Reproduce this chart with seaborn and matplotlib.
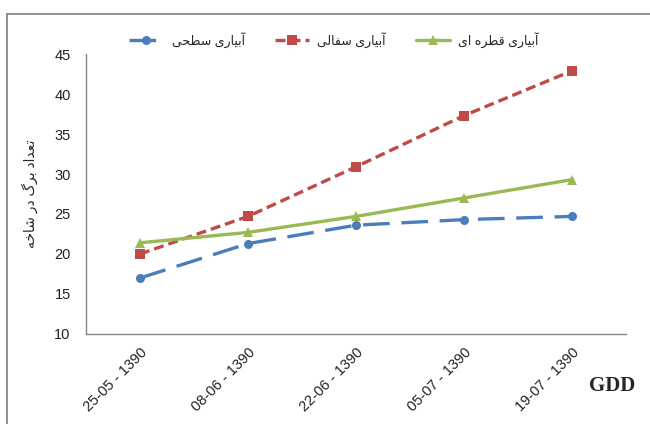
import pandas as pd
import matplotlib.pyplot as plt
import seaborn as sns
from matplotlib.lines import Line2D

dates = ['25-05 - 1390', '08-06 - 1390', '22-06 - 1390', '05-07 - 1390', '19-07 - 1390']
surface = [17.0, 21.3, 23.6, 24.3, 24.7]
clay_pot = [20.0, 24.7, 30.9, 37.3, 42.9]
drip = [21.4, 22.7, 24.7, 27.0, 29.3]
series_names = ['آبیاری سطحی', 'آبیاری سفالی', 'آبیاری قطره ای']
y_title = 'تعداد برگ در شاخه'

# matplotlib does no arabic shaping, so pick presentation forms by hand
# (isolated, final, initial, medial); two-entry rows don't join forward
FORMS = {
    'آ': '\ufe81\ufe82', 'ا': '\ufe8d\ufe8e', 'د': '\ufea9\ufeaa', 'ر': '\ufead\ufeae',
    'ب': '\ufe8f\ufe90\ufe91\ufe92', 'ت': '\ufe95\ufe96\ufe97\ufe98',
    'ح': '\ufea1\ufea2\ufea3\ufea4', 'خ': '\ufea5\ufea6\ufea7\ufea8',
    'س': '\ufeb1\ufeb2\ufeb3\ufeb4', 'ش': '\ufeb5\ufeb6\ufeb7\ufeb8',
    'ط': '\ufec1\ufec2\ufec3\ufec4', 'ع': '\ufec9\ufeca\ufecb\ufecc',
    'ف': '\ufed1\ufed2\ufed3\ufed4', 'ق': '\ufed5\ufed6\ufed7\ufed8',
    'ل': '\ufedd\ufede\ufedf\ufee0', 'ه': '\ufee9\ufeea\ufeeb\ufeec',
    'ی': '\ufeef\ufef0\ufef3\ufef4', 'گ': '\ufb92\ufb93\ufb94\ufb95',
}


def shape(text):
    out = []
    for i, ch in enumerate(text):
        f = FORMS.get(ch)
        if f is None:
            out.append(ch)
            continue
        prev = text[i - 1] if i > 0 else ''
        nxt = text[i + 1] if i + 1 < len(text) else ''
        join_prev = prev in FORMS and len(FORMS[prev]) == 4
        join_next = len(f) == 4 and nxt in FORMS
        if join_prev and join_next:
            out.append(f[3])
        elif join_next:
            out.append(f[2])
        elif join_prev:
            out.append(f[1])
        else:
            out.append(f[0])
    return ''.join(out)[::-1]


labels = [shape(s) for s in series_names]
df = pd.DataFrame({
    'x': list(range(len(dates))) * 3,
    'value': surface + clay_pot + drip,
    'series': [labels[0]] * 5 + [labels[1]] * 5 + [labels[2]] * 5,
})

sns.set_style('white')
plt.rcParams['font.family'] = ['Liberation Sans', 'DejaVu Sans']

fig = plt.figure(figsize=(6.5, 4.24), dpi=100)
ax = fig.add_axes([0.1323, 0.2123, 0.8307, 0.6603])

palette = {labels[0]: '#4a7ebb', labels[1]: '#be4b48', labels[2]: '#98b954'}
sns.lineplot(data=df, x='x', y='value', hue='series', style='series',
             palette=palette, markers={labels[0]: 'o', labels[1]: 's', labels[2]: '^'},
             dashes={labels[0]: (8, 3.5), labels[1]: (3, 1.5), labels[2]: ''},
             linewidth=2.4, markersize=6.5, markeredgewidth=0, ax=ax)

ax.set_xlim(-0.5, 4.5)
ax.set_ylim(10, 45)
ax.set_yticks(range(10, 46, 5))
ax.set_xticks(range(len(dates)))
ax.set_xticklabels(dates, rotation=45, ha='right', rotation_mode='anchor', fontsize=10.5)
ax.set_xticks([i - 0.5 for i in range(len(dates) + 1)], minor=True)
ax.tick_params(axis='x', which='major', length=0, pad=8, labelcolor='#222222')
ax.tick_params(axis='x', which='minor', length=5, color='#868686', width=1)
ax.tick_params(axis='y', length=5, color='#868686', width=1, labelsize=10.5, pad=6,
               labelcolor='#222222')
for s in ['top', 'right']:
    ax.spines[s].set_visible(False)
for s in ['left', 'bottom']:
    ax.spines[s].set_color('#868686')
    ax.spines[s].set_linewidth(1)

ax.set_xlabel('')
ax.set_ylabel(shape(y_title), fontsize=10, labelpad=12)

ax.legend(loc='center', bbox_to_anchor=(0.514, 0.906), bbox_transform=fig.transFigure,
          ncol=3, frameon=False, fontsize=9, handlelength=2.7, columnspacing=2.4,
          handletextpad=0.7)

fig.text(0.942, 0.09, 'GDD', fontsize=15, fontweight='bold', family='Liberation Serif',
         ha='center', va='center')

# outer frame of the chart area, cut off at right and bottom
fig.add_artist(Line2D([7 / 650, 1.0], [1 - 14 / 424, 1 - 14 / 424], color='#8a8a8a', lw=1.3))
fig.add_artist(Line2D([7 / 650, 7 / 650], [0.0, 1 - 14 / 424], color='#8a8a8a', lw=1.3))

fig.savefig('out.png', dpi=100)
